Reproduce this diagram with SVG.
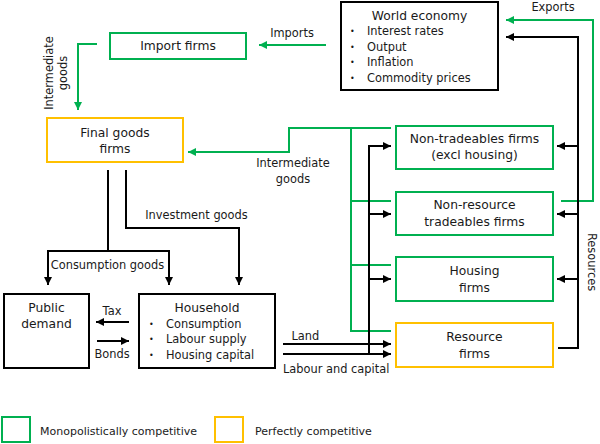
<svg xmlns="http://www.w3.org/2000/svg" width="600" height="444" viewBox="0 0 600 444">
<defs>
<style>
text{font-family:"DejaVu Sans","Liberation Sans",sans-serif;fill:#1a1a1a}
.t{font-size:12.3px;text-anchor:middle}
.b{font-size:11.4px}
.d{font-size:8px}
.l{font-size:11.4px}
.m{text-anchor:middle}
.box{fill:#fff;stroke-width:2}
.k{stroke:#000}
.g{stroke:#00B050}
.o{stroke:#FFC000}
.cg{fill:none;stroke:#00B050;stroke-width:2}
.ck{fill:none;stroke:#000;stroke-width:2}
.ag{marker-end:url(#ag)}
.ak{marker-end:url(#ak)}
</style>
<marker id="ak" markerUnits="userSpaceOnUse" markerWidth="9" markerHeight="9" refX="8" refY="4" orient="auto" viewBox="0 0 9 8">
<path d="M0,0 L8,4 L0,8 z" fill="#000"/>
</marker>
<marker id="ag" markerUnits="userSpaceOnUse" markerWidth="9" markerHeight="9" refX="8" refY="4" orient="auto" viewBox="0 0 9 8">
<path d="M0,0 L8,4 L0,8 z" fill="#00B050"/>
</marker>
</defs>
<rect width="600" height="444" fill="#fff"/>

<g id="connectors">
<path class="cg ag" d="M326,45 L259,45"/>
<path class="cg ag" d="M97,44 L78,44 L78,110"/>
<path class="cg ag" d="M391,128 L289,128 L289,152 L188,152"/>
<path class="cg" d="M351,128 L351,331 L391,331"/>
<path class="cg" d="M351,201 L391,201"/>
<path class="cg" d="M351,265 L391,265"/>
<path class="cg ag" d="M561,201 L593,201 L593,20 L506,20"/>

<path class="ck" d="M108,170 L108,251"/>
<path class="ck ak" d="M109,251 L48,251 L48,285"/>
<path class="ck ak" d="M107,251 L169,251 L169,285"/>
<path class="ck ak" d="M126,170 L126,228 L239,228 L239,285"/>
<path class="ck ak" d="M129,322 L96,322"/>
<path class="ck ak" d="M97,341 L129,341"/>
<path class="ck ak" d="M283,344 L391,344"/>
<path class="ck ak" d="M283,354 L391,354"/>
<path class="ck ak" d="M369,354 L369,146 L391,146"/>
<path class="ck ak" d="M369,214 L391,214"/>
<path class="ck ak" d="M369,279 L391,279"/>
<path class="ck ak" d="M558,348 L578,348 L578,37 L506,37"/>
<path class="ck ak" d="M578,146 L557,146"/>
<path class="ck ak" d="M578,214 L557,214"/>
<path class="ck ak" d="M578,279 L557,279"/>

<text class="l m" x="292" y="37">Imports</text>
<text class="l m" x="553" y="11">Exports</text>
<g transform="translate(0,73) rotate(-90)">
<text class="l m" x="0" y="53">Intermediate</text>
<text class="l m" x="0" y="67">goods</text>
</g>
<text class="l m" x="293" y="167">Intermediate</text>
<text class="l m" x="293" y="183">goods</text>
<text class="l m" x="196.5" y="218.5">Investment goods</text>
<text class="l m" x="107.5" y="269">Consumption goods</text>
<text class="l m" x="112" y="315">Tax</text>
<text class="l m" x="112" y="358">Bonds</text>
<text class="l" x="291.5" y="339.5">Land</text>
<text class="l" x="283" y="372.5">Labour and capital</text>
<text class="l m" transform="translate(587.5,262) rotate(90)" x="0" y="0">Resources</text>
</g>

<g id="world-economy">
<rect class="box k" x="341" y="2" width="157" height="88"/>
<text class="t" x="419.5" y="19.5">World economy</text>
<g class="b">
<text class="d" x="350" y="34">•</text><text x="367" y="35">Interest rates</text>
<text class="d" x="350" y="49.5">•</text><text x="367" y="50.5">Output</text>
<text class="d" x="350" y="65">•</text><text x="367" y="66">Inflation</text>
<text class="d" x="350" y="80.5">•</text><text x="367" y="81.5">Commodity prices</text>
</g>
</g>

<g id="import-firms">
<rect class="box g" x="110" y="33" width="136" height="26"/>
<text class="t" x="178" y="50">Import firms</text>
</g>

<g id="final-goods-firms">
<rect class="box o" x="47" y="118" width="136" height="44"/>
<text class="t" x="115" y="136.5">Final goods</text>
<text class="t" x="115" y="152.5">firms</text>
</g>

<g id="non-tradeables-firms">
<rect class="box g" x="396" y="126" width="157" height="43"/>
<text class="t" x="474.5" y="142.5">Non-tradeables firms</text>
<text class="t" x="474.5" y="159">(excl housing)</text>
</g>

<g id="non-resource-tradeables-firms">
<rect class="box g" x="396" y="192" width="157" height="43"/>
<text class="t" x="474.5" y="209">Non-resource</text>
<text class="t" x="474.5" y="226">tradeables firms</text>
</g>

<g id="housing-firms">
<rect class="box g" x="396" y="257" width="157" height="44"/>
<text class="t" x="474.5" y="275">Housing</text>
<text class="t" x="474.5" y="291.5">firms</text>
</g>

<g id="resource-firms">
<rect class="box o" x="396" y="323" width="157" height="44"/>
<text class="t" x="474.5" y="341">Resource</text>
<text class="t" x="474.5" y="357.5">firms</text>
</g>

<g id="public-demand">
<rect class="box k" x="4" y="294" width="85" height="74"/>
<text class="t" x="46.5" y="311.5">Public</text>
<text class="t" x="46.5" y="328">demand</text>
</g>

<g id="household">
<rect class="box k" x="139" y="294" width="136" height="74"/>
<text class="t" x="207" y="311.5">Household</text>
<g class="b">
<text class="d" x="149" y="326.5">•</text><text x="166" y="327.5">Consumption</text>
<text class="d" x="149" y="342">•</text><text x="166" y="343">Labour supply</text>
<text class="d" x="149" y="357.5">•</text><text x="166" y="358.5">Housing capital</text>
</g>
</g>

<g id="legend">
<rect class="box g" x="2" y="417" width="28" height="25"/>
<text x="40" y="434.5" style="font-size:11px">Monopolistically competitive</text>
<rect class="box o" x="215" y="417" width="28" height="25"/>
<text x="255" y="434.5" style="font-size:11px">Perfectly competitive</text>
</g>
</svg>
